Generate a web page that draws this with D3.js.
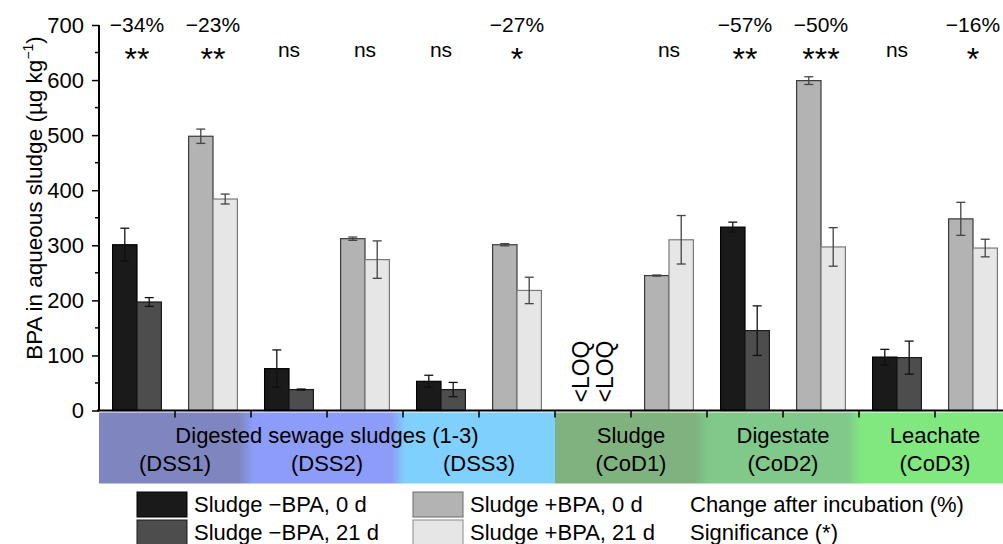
<!DOCTYPE html>
<html>
<head>
<meta charset="utf-8">
<script src="https://cdn.jsdelivr.net/npm/d3@7/dist/d3.min.js"></script>
<style>
  body { margin: 0; background: #fff; }
  text { font-family: "Liberation Sans", Arial, sans-serif; fill: #000; }
</style>
</head>
<body>
<script>
const width = 1003;
const height = 544;
const margin = { top: 25, left: 99, bottom: 133 };

// data (µg/kg), null = below LOQ
const categories = ["DSS1 -BPA", "DSS1 +BPA", "DSS2 -BPA", "DSS2 +BPA", "DSS3 -BPA", "DSS3 +BPA",
                    "CoD1 -BPA", "CoD1 +BPA", "CoD2 -BPA", "CoD2 +BPA", "CoD3 -BPA", "CoD3 +BPA"];
const day0     = [301, 498, 76, 312, 53, 301, null, 245, 333, 599, 97, 348];
const day0Err  = [30, 13, 34, 3, 11, 2, null, 1, 9, 7, 14, 30];
const day21    = [197, 384, 38, 274, 38, 218, null, 310, 145, 297, 96, 295];
const day21Err = [8, 9, 1, 34, 13, 24, null, 44, 45, 35, 30, 16];
const changes      = ["−34%", "−23%", "", "", "", "−27%", "", "", "−57%", "−50%", "", "−16%"];
const significance = ["**", "**", "ns", "ns", "ns", "*", "", "ns", "**", "***", "ns", "*"];

const groups     = ["DSS1", "DSS2", "DSS3", "CoD1", "CoD2", "CoD3"];
const groupNames = ["", "Digested sewage sludges (1-3)", "", "Sludge", "Digestate", "Leachate"];
const groupCodes = ["(DSS1)", "(DSS2)", "(DSS3)", "(CoD1)", "(CoD2)", "(CoD3)"];
const groupColors = ["#7f86bf", "#8c9cf8", "#7fd0fc", "#7fb27f", "#80c98a", "#80e87f"];

const days = ["0 d", "21 d"];
const yTicks = [0, 100, 200, 300, 400, 500, 600, 700];
const legendLabels = ["Sludge −BPA, 0 d", "Sludge −BPA, 21 d", "Sludge +BPA, 0 d", "Sludge +BPA, 21 d"];
const legendNotes = ["Change after incubation (%)", "Significance (*)"];

const fills   = { minus: ["#1a1a1a", "#4d4d4d"], plus: ["#b3b3b3", "#e6e6e6"] };
const strokes = { minus: ["#000", "#1a1a1a"], plus: ["#3a3a3a", "#7a7a7a"] };

const svg = d3.select("body").append("svg")
  .attr("width", width)
  .attr("height", height);

const x = d3.scaleBand()
  .domain(categories)
  .range([margin.left, margin.left + 76 * categories.length]);

const xDay = d3.scaleBand()
  .domain(days)
  .range([0, x.bandwidth()])
  .paddingOuter(0.557);

const y = d3.scaleLinear()
  .domain([0, 700])
  .range([410.5, margin.top]);

const axisY = y(0);

// coloured band under the axis
const defs = svg.append("defs");
const grad = defs.append("linearGradient")
  .attr("id", "band")
  .attr("gradientUnits", "userSpaceOnUse")
  .attr("x1", x.range()[0]).attr("x2", x.range()[1])
  .attr("y1", 0).attr("y2", 0);

const span = x.range()[1] - x.range()[0];
const off = v => (v - x.range()[0]) / span;
groups.forEach((g, i) => {
  const gx0 = x(categories[2 * i]);
  const gx1 = x(categories[2 * i + 1]) + x.bandwidth();
  const prevSame = i > 0 && groups[i - 1].slice(0, 3) === g.slice(0, 3);
  const nextSame = i < groups.length - 1 && groups[i + 1].slice(0, 3) === g.slice(0, 3);
  grad.append("stop").attr("offset", off(prevSame ? gx0 + 2 : gx0)).attr("stop-color", groupColors[i]);
  grad.append("stop").attr("offset", off(nextSame ? gx1 - 12 : gx1)).attr("stop-color", groupColors[i]);
});

svg.append("rect")
  .attr("x", x.range()[0])
  .attr("y", axisY + 2)
  .attr("width", span)
  .attr("height", 71)
  .attr("fill", "url(#band)");

groups.forEach((g, i) => {
  const cx = x(categories[2 * i]) + x.bandwidth();
  if (groupNames[i]) {
    svg.append("text")
      .attr("x", cx).attr("y", 443)
      .attr("text-anchor", "middle")
      .attr("font-size", 22)
      .text(groupNames[i]);
  }
  svg.append("text")
    .attr("x", cx).attr("y", 471)
    .attr("text-anchor", "middle")
    .attr("font-size", 22)
    .text(groupCodes[i]);
});

// bars
const bars = [];
categories.forEach((c, i) => {
  const side = c.includes("+BPA") ? "plus" : "minus";
  [[day0, day0Err], [day21, day21Err]].forEach(([vals, errs], k) => {
    bars.push({ cat: c, day: days[k], value: vals[i], err: errs[i], fill: fills[side][k], stroke: strokes[side][k], side });
  });
});

svg.selectAll("rect.bar")
  .data(bars.filter(d => d.value != null))
  .enter()
  .append("rect")
  .attr("class", "bar")
  .attr("x", d => x(d.cat) + xDay(d.day))
  .attr("y", d => y(d.value))
  .attr("width", xDay.bandwidth())
  .attr("height", d => axisY - y(d.value))
  .attr("fill", d => d.fill)
  .attr("stroke", d => d.stroke)
  .attr("stroke-width", 1.2);

// error bars
const eb = svg.selectAll("g.err")
  .data(bars.filter(d => d.value != null))
  .enter()
  .append("g")
  .attr("class", "err")
  .attr("stroke", d => d.side === "plus" ? "#444" : "#111")
  .attr("stroke-width", 1.3);

const ebx = d => x(d.cat) + xDay(d.day) + xDay.bandwidth() / 2;
eb.append("line")
  .attr("x1", ebx).attr("x2", ebx)
  .attr("y1", d => y(d.value + d.err)).attr("y2", d => y(d.value - d.err));
eb.append("line")
  .attr("x1", d => ebx(d) - 4.5).attr("x2", d => ebx(d) + 4.5)
  .attr("y1", d => y(d.value + d.err)).attr("y2", d => y(d.value + d.err));
eb.append("line")
  .attr("x1", d => ebx(d) - 4.5).attr("x2", d => ebx(d) + 4.5)
  .attr("y1", d => y(d.value - d.err)).attr("y2", d => y(d.value - d.err));

// below LOQ labels
svg.selectAll("text.loq")
  .data(bars.filter(d => d.value == null))
  .enter()
  .append("text")
  .attr("class", "loq")
  .attr("transform", d => `translate(${ebx(d)}, ${axisY - 8}) rotate(-90)`)
  .attr("dy", "0.36em")
  .attr("font-size", 23)
  .text("<LOQ");

// change + significance above each pair
svg.selectAll("text.change")
  .data(categories)
  .enter()
  .append("text")
  .attr("class", "change")
  .attr("x", d => x(d) + x.bandwidth() / 2)
  .attr("y", 32)
  .attr("text-anchor", "middle")
  .attr("font-size", 21)
  .text((d, i) => changes[i]);

svg.selectAll("text.sig")
  .data(categories)
  .enter()
  .append("text")
  .attr("class", "sig")
  .attr("x", d => x(d) + x.bandwidth() / 2)
  .attr("y", (d, i) => significance[i] === "ns" ? 57 : 70)
  .attr("text-anchor", "middle")
  .attr("font-size", (d, i) => significance[i] === "ns" ? 21 : 32)
  .text((d, i) => significance[i]);

// y axis
const yAxis = d3.axisLeft(y)
  .tickValues(yTicks)
  .tickSize(7)
  .tickPadding(8);

const gy = svg.append("g")
  .attr("transform", `translate(${margin.left}, 0)`)
  .call(yAxis);
gy.select(".domain").attr("stroke-width", 2).attr("d", `M0,${y(700)}V${axisY}`);
gy.selectAll(".tick line").attr("stroke-width", 1.5);
gy.selectAll(".tick text").attr("font-size", 22).attr("font-family", "Liberation Sans, Arial, sans-serif");

gy.selectAll("line.minor")
  .data(yTicks.slice(0, -1).map(v => v + 50))
  .enter()
  .append("line")
  .attr("class", "minor")
  .attr("x1", -4).attr("x2", 0)
  .attr("y1", d => y(d)).attr("y2", d => y(d))
  .attr("stroke", "#000")
  .attr("stroke-width", 1.5);

// x axis line + ticks at category boundaries
svg.append("line")
  .attr("x1", margin.left - 2).attr("x2", width)
  .attr("y1", axisY).attr("y2", axisY)
  .attr("stroke", "#000")
  .attr("stroke-width", 2);

svg.selectAll("line.xtick")
  .data(categories.slice(0, -1))
  .enter()
  .append("line")
  .attr("class", "xtick")
  .attr("x1", d => x(d) + x.bandwidth()).attr("x2", d => x(d) + x.bandwidth())
  .attr("y1", axisY).attr("y2", axisY + 7)
  .attr("stroke", "#000")
  .attr("stroke-width", 1.5);

// y label
const ylab = svg.append("text")
  .attr("transform", `translate(42, 198) rotate(-90)`)
  .attr("text-anchor", "middle")
  .attr("font-size", 22.5);
ylab.append("tspan").text("BPA in aqueous sludge (µg kg");
ylab.append("tspan").attr("font-size", 14).attr("dy", -9).text("−1");
ylab.append("tspan").attr("dy", 9).text(")");

// legend
const legend = svg.append("g").attr("id", "legend");
const swX = [137, 137, 413, 413];
const swY = [492, 520, 492, 520];
const legendFills = [fills.minus[0], fills.minus[1], fills.plus[0], fills.plus[1]];
const legendStrokes = ["#000", "#1a1a1a", "#6a6a6a", "#8a8a8a"];

legend.selectAll("rect")
  .data(legendLabels)
  .enter()
  .append("rect")
  .attr("x", (d, i) => swX[i])
  .attr("y", (d, i) => swY[i])
  .attr("width", 50)
  .attr("height", 25)
  .attr("fill", (d, i) => legendFills[i])
  .attr("stroke", (d, i) => legendStrokes[i]);

legend.selectAll("text.lab")
  .data(legendLabels)
  .enter()
  .append("text")
  .attr("class", "lab")
  .attr("x", (d, i) => swX[i] + 57)
  .attr("y", (d, i) => swY[i] + 20)
  .attr("font-size", 22)
  .text(d => d);

legend.selectAll("text.note")
  .data(legendNotes)
  .enter()
  .append("text")
  .attr("class", "note")
  .attr("x", 690)
  .attr("y", (d, i) => swY[i] + 20)
  .attr("font-size", 22)
  .text(d => d);
</script>
</body>
</html>
